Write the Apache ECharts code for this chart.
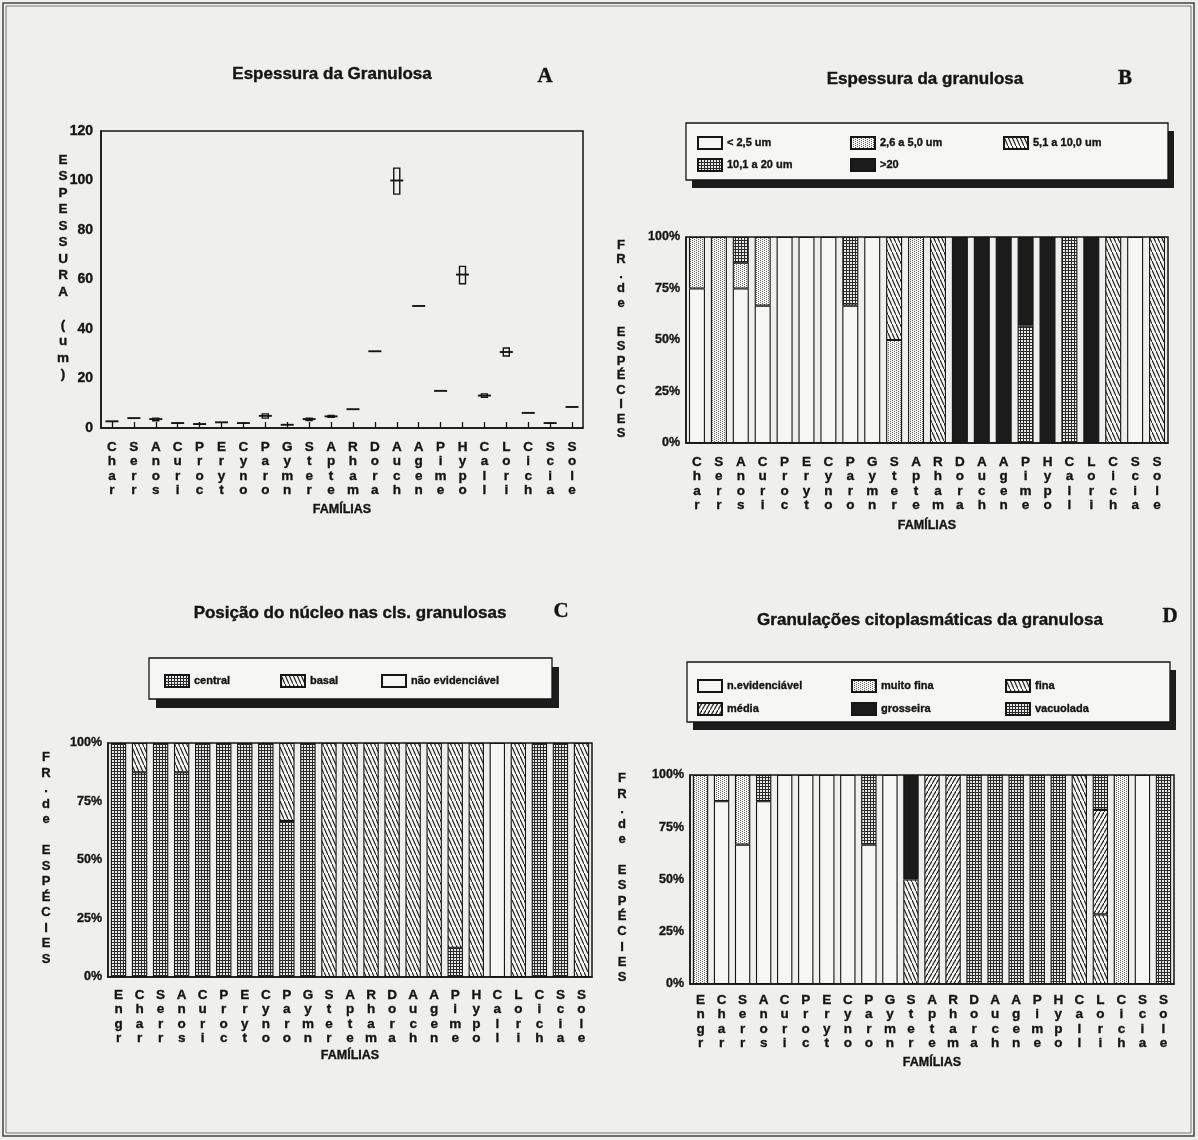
<!DOCTYPE html>
<html><head><meta charset="utf-8">
<script src="https://cdn.jsdelivr.net/npm/echarts@6/dist/echarts.min.js"></script>
<style>html,body{margin:0;padding:0;background:#efefed}#c{width:1198px;height:1140px}</style>
</head><body><div id="c"></div>
<script>
// ---------- DATA ----------
const famAB = ['Char','Serr','Anos','Curi','Proc','Eryt','Cyno','Paro','Gymn','Ster','Apte','Rham','Dora','Auch','Agen','Pime','Hypo','Call','Lori','Cich','Scia','Sole'];
const famCD = ['Engr','Char','Serr','Anos','Curi','Proc','Eryt','Cyno','Paro','Gymn','Ster','Apte','Rham','Dora','Auch','Agen','Pime','Hypo','Call','Lori','Cich','Scia','Sole'];

// A: espessura (um) - median, low, high
const espMedian = [2.7, 4.0, 3.6, 2.0, 1.6, 2.3, 2.0, 4.9, 1.3, 3.6, 4.7, 7.6, 31, 100, 49.3, 15, 62, 13.1, 30.7, 6.1, 2.0, 8.5];
const espLow    = [2.7, 4.0, 2.9, 2.0, 1.6, 2.3, 2.0, 4.0, 1.3, 3.0, 4.3, 7.4, 30.7, 94.5, 49.1, 14.8, 58.3, 12.4, 29.1, 5.8, 2.0, 8.2];
const espHigh   = [2.7, 4.0, 4.0, 2.0, 1.6, 2.3, 2.0, 5.7, 1.3, 4.0, 5.1, 7.8, 31.3, 105, 49.5, 15.2, 65.3, 13.8, 32.3, 6.4, 2.0, 8.8];
const yTicksA = [0, 20, 40, 60, 80, 100, 120];

// B: espessura da granulosa (% of species)
const bNames = ['< 2,5 um', '2,6 a 5,0 um', '5,1 a 10,0 um', '10,1 a 20 um', '>20'];
const bLt25   = [75, 0, 75, 66.7, 100, 100, 100, 66.7, 100, 0, 0, 0, 0, 0, 0, 0, 0, 0, 0, 0, 100, 0];
const b26to50 = [25, 100, 12.5, 33.3, 0, 0, 0, 0, 0, 50, 100, 0, 0, 0, 0, 0, 0, 0, 0, 0, 0, 0];
const b51to10 = [0, 0, 0, 0, 0, 0, 0, 0, 0, 50, 0, 100, 0, 0, 0, 0, 0, 0, 0, 100, 0, 100];
const b101to20= [0, 0, 12.5, 0, 0, 0, 0, 33.3, 0, 0, 0, 0, 0, 0, 0, 57, 0, 100, 0, 0, 0, 0];
const bGt20   = [0, 0, 0, 0, 0, 0, 0, 0, 0, 0, 0, 0, 100, 100, 100, 43, 100, 0, 100, 0, 0, 0];

// C: posição do núcleo
const cNames = ['central', 'basal', 'não evidenciável'];
const cCentral = [100, 87.5, 100, 87.5, 100, 100, 100, 100, 66.7, 100, 0, 0, 0, 0, 0, 0, 12.5, 0, 0, 0, 100, 100, 0];
const cBasal   = [0, 12.5, 0, 12.5, 0, 0, 0, 0, 33.3, 0, 100, 100, 100, 100, 100, 100, 87.5, 100, 0, 100, 0, 0, 100];
const cNaoEv   = [0, 0, 0, 0, 0, 0, 0, 0, 0, 0, 0, 0, 0, 0, 0, 0, 0, 0, 100, 0, 0, 0, 0];

// D: granulações citoplasmáticas
const dNames = ['n.evidenciável', 'muito fina', 'fina', 'média', 'grosseira', 'vacuolada'];
const dNaoEv    = [0, 87.5, 66.7, 87.5, 100, 100, 100, 100, 66.7, 100, 0, 0, 0, 0, 0, 0, 0, 0, 0, 0, 0, 100, 0];
const dMuitoFina= [100, 12.5, 33.3, 0, 0, 0, 0, 0, 0, 0, 0, 0, 0, 0, 0, 0, 0, 0, 0, 0, 100, 0, 0];
const dFina     = [0, 0, 0, 0, 0, 0, 0, 0, 0, 0, 50, 0, 0, 0, 0, 0, 0, 0, 100, 33.3, 0, 0, 0];
const dMedia    = [0, 0, 0, 0, 0, 0, 0, 0, 0, 0, 0, 100, 100, 0, 0, 0, 0, 0, 0, 50, 0, 0, 0];
const dGrosseira= [0, 0, 0, 0, 0, 0, 0, 0, 0, 0, 50, 0, 0, 0, 0, 0, 0, 0, 0, 0, 0, 0, 0];
const dVacuolada= [0, 0, 0, 12.5, 0, 0, 0, 0, 33.3, 0, 0, 0, 0, 100, 100, 100, 100, 100, 0, 16.7, 0, 0, 100];

// ---------- STYLE HELPERS ----------
const F = '"Liberation Sans", Arial, Helvetica, sans-serif';
const INK = '#151515';
const PAPER = '#f6f6f4';

function pattern(kind) {
  let w = 4, h = 4;
  if (kind === 'back') { w = 4; h = 9; }
  if (kind === 'fwd') { w = 4; h = 7; }
  if (kind === 'coarse') { w = 3; h = 3; }
  const c = document.createElement('canvas');
  c.width = w; c.height = h;
  const g = c.getContext('2d');
  g.fillStyle = PAPER; g.fillRect(0, 0, w, h);
  if (kind === 'fine') {
    g.fillStyle = '#606060';
    g.fillRect(0, 0, 1, 1); g.fillRect(2, 1, 1, 1); g.fillRect(0, 2, 1, 1); g.fillRect(2, 3, 1, 1);
  } else if (kind === 'coarse') {
    g.fillStyle = '#2a2a2a'; g.fillRect(0, 0, w, h);
    g.fillStyle = '#e8e8e6'; g.fillRect(1, 1, 2, 2);
  } else if (kind === 'back') {
    g.strokeStyle = '#222'; g.lineWidth = 1.15;
    g.beginPath(); g.moveTo(-1, -h / w); g.lineTo(w + 1, h + h / w); g.stroke();
  } else if (kind === 'fwd') {
    g.strokeStyle = '#222'; g.lineWidth = 1.15;
    g.beginPath(); g.moveTo(w + 1, -h / w); g.lineTo(-1, h + h / w); g.stroke();
  }
  return { image: c, repeat: 'repeat' };
}
const P = {
  white: PAPER,
  fine: pattern('fine'),
  coarse: pattern('coarse'),
  back: pattern('back'),
  fwd: pattern('fwd'),
  black: '#1b1b1b'
};

const stackLab = v => v.split('').join('\n');
const boldTxt = (size) => ({ color: INK, fontFamily: F, fontWeight: 'bold', fontSize: size, textBorderColor: INK, textBorderWidth: 0.35 });

function xAx(idx, cats, margin, nameGap) {
  return {
    gridIndex: idx, type: 'category', data: cats, boundaryGap: true,
    axisLine: { show: true, lineStyle: { color: INK, width: 1.5 } },
    axisTick: { show: true, inside: true, length: 6, alignWithLabel: true, interval: 0, lineStyle: { color: INK, width: 1.3 } },
    axisLabel: Object.assign({ interval: 0, formatter: stackLab, lineHeight: 14.5, margin: margin }, boldTxt(13.5)),
    splitLine: { show: false },
    name: 'FAMÍLIAS', nameLocation: 'middle', nameGap: nameGap,
    nameTextStyle: boldTxt(12.5)
  };
}
function yPct(idx) {
  return {
    gridIndex: idx, type: 'value', min: 0, max: 100, interval: 25,
    axisLine: { show: true, lineStyle: { color: INK, width: 1.5 } },
    axisTick: { show: false }, splitLine: { show: false },
    axisLabel: Object.assign({ formatter: '{value}%', margin: 6 }, boldTxt(12.5))
  };
}
function bars(name, data, idx, fill, stack) {
  return {
    name: name, type: 'bar', stack: stack, xAxisIndex: idx, yAxisIndex: idx,
    barWidth: '73%',
    data: data.map(v => (v === 0 ? null : v)),
    itemStyle: { color: fill, borderColor: INK, borderWidth: 1.1 },
    emphasis: { disabled: true }, animation: false
  };
}
function legendItem(name, x, y) {
  return {
    data: [name], left: x, top: y, orient: 'horizontal', icon: 'rect',
    itemWidth: 24, itemHeight: 12, itemGap: 8, selectedMode: false,
    textStyle: boldTxt(11), padding: 0
  };
}
function legendBox(x, y, w, h, dx, dy) {
  return [
    { type: 'rect', z: 1, shape: { x: x + dx, y: y + dy, width: w, height: h }, style: { fill: '#1c1c1c' } },
    { type: 'rect', z: 2, shape: { x: x, y: y, width: w, height: h }, style: { fill: PAPER, stroke: INK, lineWidth: 1.3 } }
  ];
}
function txt(text, x, y, size, opts) {
  return {
    type: 'text', z: 5, x: x, y: y,
    style: Object.assign({ text: text, fill: INK, font: 'bold ' + size + 'px ' + F, align: 'center', verticalAlign: 'middle', stroke: INK, lineWidth: 0.4 }, (opts || {}))
  };
}
function stackTxt(text, x, y, size, lh) {
  return { type: 'text', z: 5, x: x, y: y, style: { text: text.split('').join('\n'), fill: INK, font: 'bold ' + size + 'px ' + F, align: 'center', verticalAlign: 'top', lineHeight: lh, stroke: INK, lineWidth: 0.35 } };
}
const SERIF = '"Liberation Serif", "Times New Roman", serif';

const chart = echarts.init(document.getElementById('c'));
const option = {
  backgroundColor: '#efefed',
  animation: false,
  grid: [
    { left: 101, top: 131, width: 482, height: 297, show: true, borderColor: INK, borderWidth: 1.5, backgroundColor: 'transparent' },
    { left: 686, top: 237, width: 482, height: 206, show: true, borderColor: INK, borderWidth: 1.5, backgroundColor: 'transparent' },
    { left: 108, top: 743, width: 484, height: 234, show: true, borderColor: INK, borderWidth: 1.5, backgroundColor: 'transparent' },
    { left: 690, top: 775, width: 484, height: 209, show: true, borderColor: INK, borderWidth: 1.5, backgroundColor: 'transparent' }
  ],
  xAxis: [ xAx(0, famAB, 12, 75), xAx(1, famAB, 12, 76), xAx(2, famCD, 11, 72), xAx(3, famCD, 9, 72) ],
  yAxis: [
    { gridIndex: 0, type: 'value', min: yTicksA[0], max: yTicksA[yTicksA.length - 1], interval: yTicksA[1] - yTicksA[0],
      axisLine: { show: true, lineStyle: { color: INK, width: 1.5 } }, axisTick: { show: false }, splitLine: { show: false },
      axisLabel: Object.assign({ margin: 8 }, boldTxt(14)) },
    yPct(1), yPct(2), yPct(3)
  ],
  legend: [
    legendItem(bNames[0], 697, 136), legendItem(bNames[1], 850, 136), legendItem(bNames[2], 1003, 136),
    legendItem(bNames[3], 697, 158), legendItem(bNames[4], 850, 158),
    legendItem(cNames[0], 164, 674), legendItem(cNames[1], 280, 674), legendItem(cNames[2], 381, 674),
    legendItem(dNames[0], 697, 679), legendItem(dNames[1], 851, 679), legendItem(dNames[2], 1005, 679),
    legendItem(dNames[3], 697, 702), legendItem(dNames[4], 851, 702), legendItem(dNames[5], 1005, 702)
  ],
  series: [
    {
      type: 'custom', xAxisIndex: 0, yAxisIndex: 0, animation: false,
      encode: { x: 0, y: [1, 2, 3] },
      data: famAB.map((f, i) => [i, espLow[i], espMedian[i], espHigh[i]]),
      renderItem: function (params, api) {
        const i = api.value(0);
        const pm = api.coord([i, api.value(2)]);
        const pl = api.coord([i, api.value(1)]);
        const ph = api.coord([i, api.value(3)]);
        const ch = [{ type: 'line', shape: { x1: pm[0] - 6.5, y1: pm[1], x2: pm[0] + 6.5, y2: pm[1] }, style: { stroke: INK, lineWidth: 1.9 } }];
        if (pl[1] - ph[1] > 1.5) {
          ch.push({ type: 'rect', shape: { x: pm[0] - 3, y: ph[1], width: 6, height: pl[1] - ph[1] }, style: { fill: 'none', stroke: INK, lineWidth: 1.4 } });
        }
        return { type: 'group', children: ch };
      }
    },
    bars(bNames[0], bLt25, 1, P.white, 'B'),
    bars(bNames[1], b26to50, 1, P.fine, 'B'),
    bars(bNames[2], b51to10, 1, P.back, 'B'),
    bars(bNames[3], b101to20, 1, P.coarse, 'B'),
    bars(bNames[4], bGt20, 1, P.black, 'B'),
    bars(cNames[0], cCentral, 2, P.coarse, 'C'),
    bars(cNames[1], cBasal, 2, P.back, 'C'),
    bars(cNames[2], cNaoEv, 2, P.white, 'C'),
    bars(dNames[0], dNaoEv, 3, P.white, 'D'),
    bars(dNames[1], dMuitoFina, 3, P.fine, 'D'),
    bars(dNames[2], dFina, 3, P.back, 'D'),
    bars(dNames[3], dMedia, 3, P.fwd, 'D'),
    bars(dNames[4], dGrosseira, 3, P.black, 'D'),
    bars(dNames[5], dVacuolada, 3, P.coarse, 'D')
  ],
  graphic: [
    { type: 'rect', z: 0, shape: { x: 3, y: 3, width: 1191, height: 1133 }, style: { fill: 'none', stroke: '#444', lineWidth: 1.5 } },
    { type: 'rect', z: 0, shape: { x: 6, y: 6, width: 1185, height: 1127 }, style: { fill: 'none', stroke: '#777', lineWidth: 1 } },
    ...legendBox(686, 123, 482, 57, 6, 8),
    ...legendBox(149, 658, 403, 41, 7, 9),
    ...legendBox(687, 662, 483, 60, 6, 8),
    txt('Espessura da Granulosa', 332, 74, 17),
    txt('A', 545, 77, 21, { font: 'bold 21px ' + SERIF }),
    txt('Espessura da granulosa', 925, 79, 17),
    txt('B', 1125, 79, 21, { font: 'bold 21px ' + SERIF }),
    txt('Posição do núcleo nas cls. granulosas', 350, 613, 17),
    txt('C', 561, 612, 21, { font: 'bold 21px ' + SERIF }),
    txt('Granulações citoplasmáticas da granulosa', 930, 620, 17),
    txt('D', 1170, 617, 21, { font: 'bold 21px ' + SERIF }),
    stackTxt('ESPESSURA (um)', 63, 152, 13.5, 16.5),
    stackTxt('FR.de ESPÉCIES', 621, 238, 13, 14.5),
    stackTxt('FR.de ESPÉCIES', 46, 750, 13, 15.5),
    stackTxt('FR.de ESPÉCIES', 622, 771, 13, 15.3)
  ]
};
chart.setOption(option);
</script>
</body></html>
